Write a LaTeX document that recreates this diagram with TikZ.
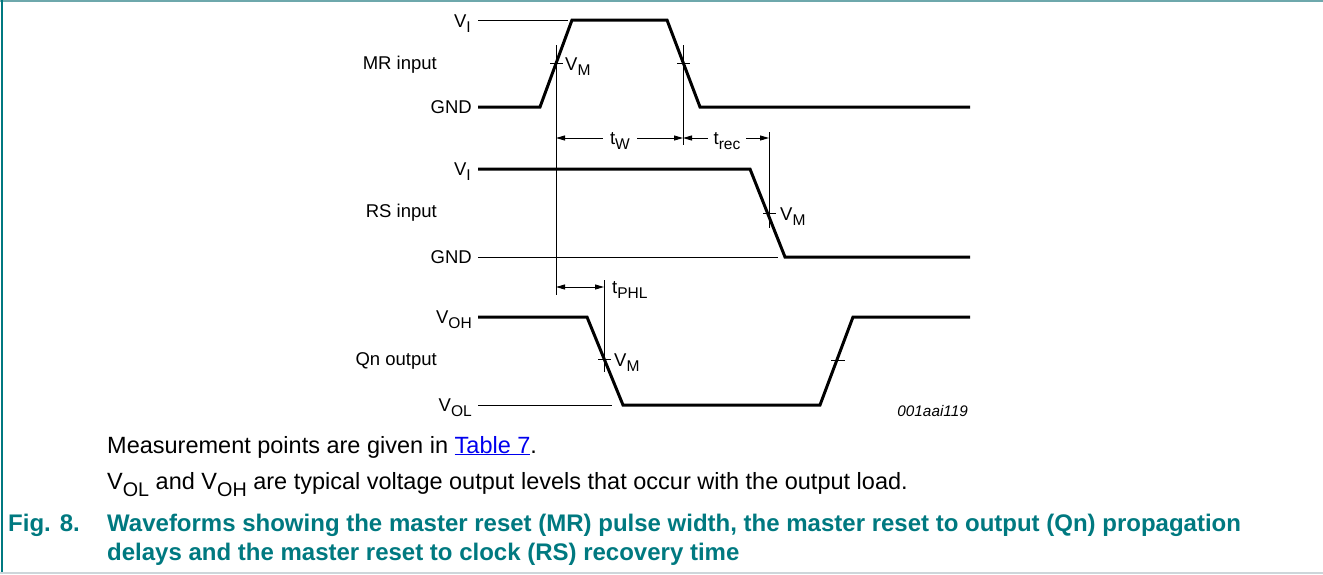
\documentclass[tikz,border=0pt]{standalone}
\usepackage{fontspec}
\setmainfont{Liberation Sans}
\usepackage{graphicx}
\usetikzlibrary{arrows.meta}
\definecolor{capteal}{RGB}{0,121,128}
\definecolor{topline}{RGB}{110,168,172}
\definecolor{botline}{RGB}{205,214,218}
\definecolor{linkblue}{RGB}{0,0,238}
\newcommand\lsub[1]{\raisebox{-0.32em}{\scalebox{0.84}{#1}}}
\tikzset{
  wave/.style={line width=3pt, line join=miter, line cap=butt},
  thinln/.style={line width=0.9pt},
  lbl/.style={font=\fontsize{18.5}{21}\selectfont, inner sep=0pt},
  dimarrow/.style={thinln, {Triangle[length=9pt,width=5pt]}-{Triangle[length=9pt,width=5pt]}},
  bodytext/.style={font=\fontsize{23.5}{27}\selectfont, inner sep=0pt, anchor=base west},
  captext/.style={font=\bfseries\fontsize{24}{28}\selectfont, text=capteal, inner sep=0pt, anchor=base west}
}
\begin{document}
\begin{tikzpicture}[x=1pt,y=-1pt]
\useasboundingbox (0,0) rectangle (1323,574);
% frame
\draw[topline, line width=2pt] (0,1) -- (1323,1);
\draw[capteal, line width=2pt] (2,0) -- (2,572);
\draw[botline, line width=2pt] (0,573) -- (1323,573);

% ---------- MR input ----------
\draw[thinln] (478,20) -- (568,20);
\draw[wave] (478,107) -- (540,107) -- (572,20) -- (667,20) -- (700,107) -- (970,107);
\draw[thinln] (556,45) -- (556,295);
\draw[thinln] (550,63) -- (563,63);
\draw[thinln] (683,45) -- (683,145);
\draw[thinln] (677,63) -- (690,63);
\node[lbl, anchor=base east] (mrvi) at (471,27) {V\lsub{I}};
\node[lbl, anchor=base east] (mrgnd) at (472,113) {GND};
\node[lbl, anchor=base east] (mrname) at (437,69) {MR input};
\node[lbl, anchor=base west] (mrvm) at (565,70) {V\lsub{M}};

% dimension arrows
\coordinate (wa) at (556,138);
\coordinate (wb) at (683,138);
\coordinate (wc) at (769,138);
\draw[dimarrow] (wa) -- (wb);
\draw[dimarrow] (wb) -- (wc);
\node[lbl, fill=white, inner xsep=7pt, inner ysep=1pt, anchor=base] (tw) at (620,144) {t\lsub{W}};
\node[lbl, fill=white, inner xsep=6pt, inner ysep=1pt, anchor=base] (trec) at (727,144) {t\lsub{rec}};
\draw[thinln] (769,132) -- (769,228);

% ---------- RS input ----------
\draw[thinln] (478,257) -- (778,257);
\draw[wave] (478,169) -- (750,169) -- (785,257) -- (970,257);
\draw[thinln] (763,213) -- (776,213);
\node[lbl, anchor=base east] (rsvi) at (471,175) {V\lsub{I}};
\node[lbl, anchor=base east] (rsgnd) at (472,263) {GND};
\node[lbl, anchor=base east] (rsname) at (437,217) {RS input};
\node[lbl, anchor=base west] (rsvm) at (780,220) {V\lsub{M}};

% tPHL
\coordinate (pa) at (556,287);
\coordinate (pb) at (604,287);
\draw[dimarrow] (pa) -- (pb);
\draw[thinln] (604,280) -- (604,372);
\node[lbl, anchor=base west] (tphl) at (612,293) {t\lsub{PHL}};

% ---------- Qn output ----------
\draw[thinln] (478,405) -- (612,405);
\draw[wave] (478,317) -- (587,317) -- (623,405) -- (820,405) -- (853,317) -- (970,317);
\draw[thinln] (598,359) -- (611,359);
\draw[thinln] (831,360) -- (845,360);
\node[lbl, anchor=base east] (voh) at (472,323) {V\lsub{OH}};
\node[lbl, anchor=base east] (vol) at (472,411) {V\lsub{OL}};
\node[lbl, anchor=base east] (qnname) at (437,365) {Qn output};
\node[lbl, anchor=base west] (qnvm) at (614,366) {V\lsub{M}};
\node[font=\itshape\fontsize{15.3}{17}\selectfont, inner sep=0pt, anchor=base east] (code) at (968,416) {001aai119};

% ---------- notes & caption ----------
\node[bodytext] (n1) at (107,453) {Measurement points are given in {\color{linkblue}\underline{Table 7}}.};
\node[bodytext] (n2) at (107,489) {V\lsub{OL} and V\lsub{OH} are typical voltage output levels that occur with the output load.};
\node[captext] (fig) at (8,531) {Fig. 8.};
\node[captext] (c1) at (107,531) {Waveforms showing the master reset (MR) pulse width, the master reset to output (Qn) propagation};
\node[captext] (c2) at (107,560) {delays and the master reset to clock (RS) recovery time};
\end{tikzpicture}
\end{document}
